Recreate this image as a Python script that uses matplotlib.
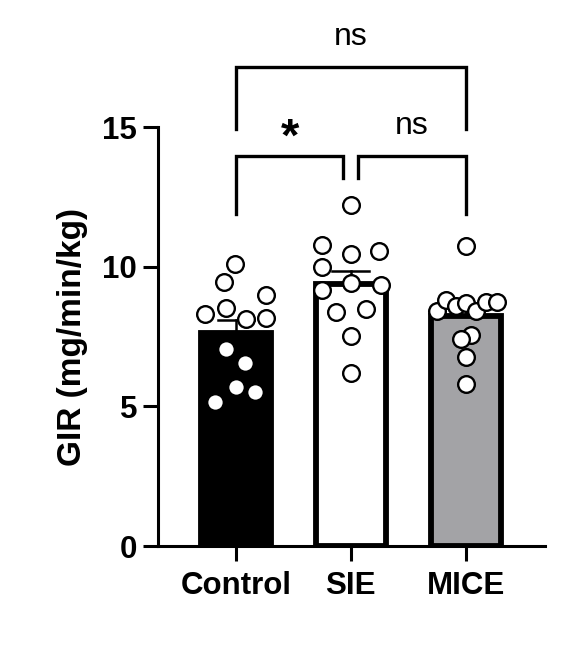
import numpy as np
import matplotlib
matplotlib.use("Agg")
import matplotlib.pyplot as plt

plt.rcParams['font.family'] = ['Liberation Sans', 'DejaVu Sans']

groups = ["Control", "SIE", "MICE"]
control = [10.09, 9.45, 8.98, 8.30, 8.51, 8.14, 8.17, 7.05, 6.54, 5.70, 5.50, 5.16]
sie = [12.22, 10.79, 10.56, 10.44, 9.99, 9.42, 9.33, 9.16, 8.36, 8.50, 7.51, 6.18]
mice = [10.75, 8.43, 8.79, 8.58, 8.70, 8.43, 8.74, 8.74, 7.54, 7.42, 6.75, 5.81]
# horizontal scatter of the dots
control_jit = [-0.01, -0.10, 0.26, -0.27, -0.09, 0.09, 0.26, -0.09, 0.08, 0.0, 0.17, -0.18]
sie_jit = [0.0, -0.25, 0.25, 0.0, -0.25, 0.0, 0.26, -0.25, -0.13, 0.13, 0.0, 0.0]
mice_jit = [0.0, -0.25, -0.17, -0.08, 0.0, 0.09, 0.18, 0.27, 0.05, -0.04, 0.0, 0.0]
yticks = [0, 5, 10, 15]
# comparisons: (left group, right group, label, bracket height, left drop, right drop)
comparisons = [(0, 1, "*", 13.98, 11.9, 13.16),
               (1, 2, "ns", 13.98, 13.16, 11.9),
               (0, 2, "ns", 17.14, 14.94, 14.94)]

data = [control, sie, mice]
jits = [control_jit, sie_jit, mice_jit]
fills = ["black", "white", "#a3a3a6"]

fig = plt.figure(figsize=(5.74, 6.64), dpi=100)
ax = fig.add_axes([0.275, 0.1777, 0.674, 0.631])

x = np.arange(len(groups))
for i, vals in enumerate(data):
    vals = np.asarray(vals)
    m = vals.mean()
    sem = vals.std(ddof=1) / np.sqrt(len(vals))
    ax.bar(x[i], m, width=0.61, color=fills[i], edgecolor="black", linewidth=4.2, zorder=2)
    ax.plot([x[i], x[i]], [m, m + sem], color="black", lw=1.8, zorder=3)
    ax.plot([x[i] - 0.16, x[i] + 0.16], [m + sem, m + sem], color="black", lw=1.8, zorder=3)
    ax.plot(x[i] + np.asarray(jits[i]), vals, "o", ms=12, mfc="white", mec="black",
            mew=1.7, zorder=4, clip_on=False)

gap = 0.065
for a, b, lab, h, dl, dr in comparisons:
    xa, xb = x[a], x[b]
    if b - a == 1:
        if a == 0:
            xb = xb - gap
        else:
            xa = xa + gap
    ax.plot([xa, xa, xb, xb], [dl, h, h, dr], color="black", lw=2.4, clip_on=False,
            solid_joinstyle="miter")
    if lab == "*":
        ax.text((xa + xb) / 2, h + 0.6, lab, ha="center", va="center", fontsize=34,
                fontweight="bold")
    else:
        ax.text((xa + xb) / 2, h + 1.07, lab, ha="center", va="center", fontsize=23)

ax.set_xlim(-0.68, 2.69)
ax.set_ylim(0, 15)
ax.set_yticks(yticks)
ax.set_xticks(x)
ax.set_xticklabels(groups)
ax.spines["top"].set_visible(False)
ax.spines["right"].set_visible(False)
for s in ["left", "bottom"]:
    ax.spines[s].set_linewidth(2.2)
ax.tick_params(axis="both", width=2.2, length=11, labelsize=22.5)
ax.tick_params(axis="x", pad=7)
ax.tick_params(axis="y", pad=4)
for t in ax.get_xticklabels() + ax.get_yticklabels():
    t.set_fontweight("bold")
ax.set_ylabel("GIR (mg/min/kg)", fontsize=24, fontweight="bold", labelpad=10)

fig.savefig("out.png", dpi=100)
